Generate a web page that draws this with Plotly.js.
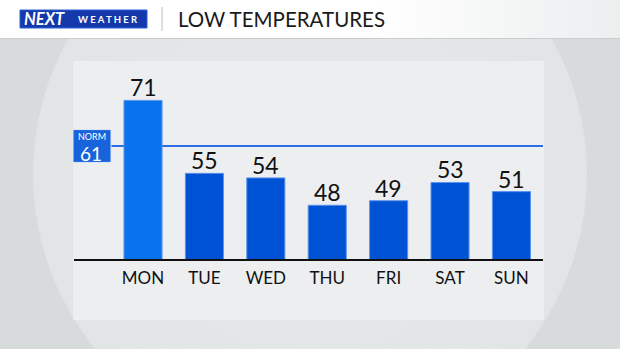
<!DOCTYPE html>
<html>
<head>
<meta charset="utf-8">
<script src="https://cdn.plot.ly/plotly-3.0.1.min.js"></script>
<style>
  html, body { margin: 0; padding: 0; width: 620px; height: 349px; overflow: hidden; background: #d7dbdc; }
  #wrap { position: relative; width: 620px; height: 349px; overflow: hidden; }
  #lens { position: absolute; left: 33px; top: -103px; width: 554px; height: 554px; border-radius: 50%;
          background: radial-gradient(circle at 50% 50%, #e6e9ea 0%, #e2e5e6 70%, #cfd3d4 93%, #c4c8c9 97.5%, #eef0f1 99%, #d7dbdc 100%); }
  #header { position: absolute; left: 0; top: 0; width: 620px; height: 38px;
            background: linear-gradient(90deg, #ffffff 0%, #ffffff 60%, #eceeef 100%); border-bottom: 1px solid #c9cdce; }
  #chart { position: absolute; left: 0; top: 0; width: 620px; height: 349px; }
</style>
</head>
<body>
<div id="wrap">
  <div id="lens"></div>
  <div id="header"></div>
  <div id="chart"></div>
</div>
<script>
const days = ["MON", "TUE", "WED", "THU", "FRI", "SAT", "SUN"];
const lows = [71, 55, 54, 48, 49, 53, 51];
const normLow = 61;
const titleText = "LOW TEMPERATURES";

// pixel -> paper helpers (plot area: x 74..543, y 61..260)
const L = 74, R = 543, T = 61, B = 260;
const px = x => (x - L) / (R - L);
const py = y => (B - y) / (B - T);

const FONT = "Lato, 'Open Sans', sans-serif";
const barColors = lows.map((v, i) => i === 0 ? "#0873ec" : "#0052d4");

const trace = {
  type: "bar",
  x: days,
  y: lows,
  width: 0.62,
  marker: { color: barColors, line: { color: "#5b93ee", width: 1 } },
  hoverinfo: "skip"
};

const valueLabels = days.map((d, i) => ({
  xref: "x", yref: "y", x: d, y: lows[i], text: String(lows[i]),
  xanchor: "center", yanchor: "bottom", yshift: -2, showarrow: false, borderpad: 0,
  font: { family: FONT, size: 23, color: "#111111" }
}));

const layout = {
  width: 620, height: 349,
  margin: { l: L, r: 620 - R, t: T, b: 349 - B, pad: 0 },
  paper_bgcolor: "rgba(0,0,0,0)",
  plot_bgcolor: "rgba(0,0,0,0)",
  showlegend: false,
  xaxis: {
    type: "category",
    range: [-1.124, 6.514],
    showgrid: false, zeroline: false, showline: false, ticks: "",
    tickfont: { family: FONT, size: 17, color: "#111111" },
    ticklabelstandoff: 6,
    fixedrange: true
  },
  yaxis: {
    range: [36, 36 + (B - T) / 4.56],
    visible: false,
    fixedrange: true
  },
  shapes: [
    // panel
    { type: "rect", xref: "paper", yref: "paper", x0: px(73), x1: px(544), y0: py(320), y1: py(61),
      fillcolor: "#eceef0", line: { width: 0 }, layer: "below" },
    // baseline
    { type: "line", xref: "paper", yref: "paper", x0: px(74), x1: px(543), y0: 0, y1: 0,
      line: { color: "#111111", width: 2 }, layer: "above" },
    // normal line
    { type: "line", xref: "paper", yref: "y", x0: px(111), x1: 1, y0: normLow, y1: normLow,
      line: { color: "#2a6ee6", width: 2 }, layer: "below" },
    // norm box
    { type: "rect", xref: "paper", yref: "y", x0: px(73), x1: px(111), y0: normLow - 3.6, y1: normLow + 3.6,
      fillcolor: "#1763dc", line: { color: "#dfe8f8", width: 1 }, layer: "above" },
    // logo box
    { type: "rect", xref: "paper", yref: "paper", x0: px(20), x1: px(147), y0: py(28), y1: py(10),
      fillcolor: "#1538aa", line: { color: "#2b62d8", width: 1 }, layer: "above" },
    // divider
    { type: "line", xref: "paper", yref: "paper", x0: px(162), x1: px(162), y0: py(31), y1: py(7),
      line: { color: "#b9bdbf", width: 1 }, layer: "above" }
  ],
  annotations: valueLabels.concat([
    { xref: "paper", yref: "y", x: px(92), y: normLow + 2.0, xanchor: "center", yanchor: "middle", borderpad: 0,
      text: "NORM", showarrow: false, font: { family: FONT, size: 9, color: "#ffffff" } },
    { xref: "paper", yref: "y", x: px(91), y: normLow - 1.6, xanchor: "center", yanchor: "middle", borderpad: 0,
      text: String(normLow), showarrow: false, font: { family: FONT, size: 19, color: "#ffffff" } },
    { xref: "paper", yref: "paper", x: px(22), y: py(19.5), xanchor: "left", yanchor: "middle",
      text: "<b><i>NEXT</i></b>", showarrow: false, font: { family: FONT, size: 16.5, color: "#ffffff" } },
    { xref: "paper", yref: "paper", x: px(76), y: py(19.5), xanchor: "left", yanchor: "middle",
      text: "<b>W E A T H E R</b>", showarrow: false, font: { family: FONT, size: 9.5, color: "#ffffff" } },
    { xref: "paper", yref: "paper", x: px(176), y: py(19), xanchor: "left", yanchor: "middle",
      text: titleText, showarrow: false, font: { family: FONT, size: 20.5, color: "#1a1a1a" } }
  ])
};

Plotly.newPlot("chart", [trace], layout, { displayModeBar: false, staticPlot: true });
</script>
</body>
</html>
